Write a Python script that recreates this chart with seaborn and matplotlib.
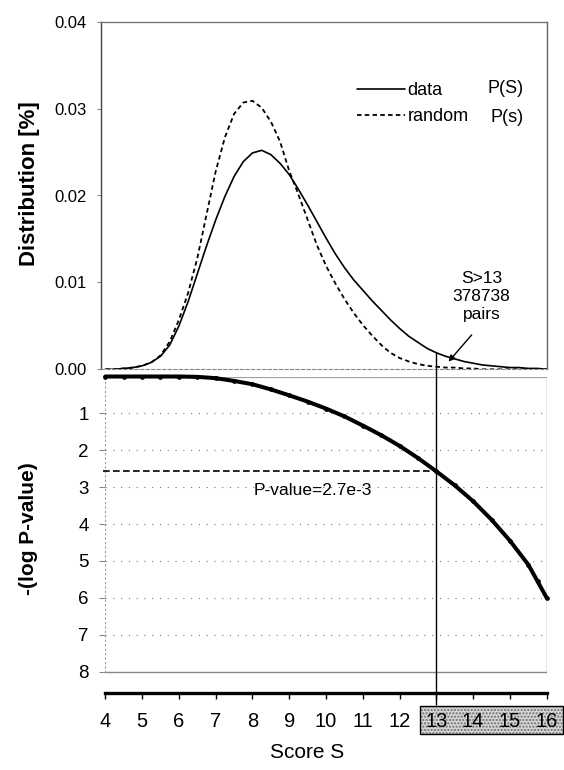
import matplotlib
matplotlib.use('Agg')
import matplotlib.pyplot as plt
from matplotlib.patches import Rectangle
import seaborn as sns

sns.set_theme(style='white')
plt.rcParams['font.family'] = ['Liberation Sans', 'DejaVu Sans']
plt.rcParams['text.color'] = 'black'
plt.rcParams['axes.labelcolor'] = 'black'

# upper panel: score distributions (fraction)
score = [4.0, 4.25, 4.5, 4.75, 5.0, 5.25, 5.5, 5.75, 6.0, 6.25, 6.5, 6.75,
         7.0, 7.25, 7.5, 7.75, 8.0, 8.25, 8.5, 8.75, 9.0, 9.25, 9.5, 9.75,
         10.0, 10.25, 10.5, 10.75, 11.0, 11.25, 11.5, 11.75, 12.0, 12.25, 12.5, 12.75,
         13.0, 13.25, 13.5, 13.75, 14.0, 14.25, 14.5, 14.75, 15.0, 15.25, 15.5, 15.75, 16.0]
p_data = [0.0, 0.0, 0.0001, 0.0002, 0.0004, 0.0008, 0.0015, 0.0028, 0.0050, 0.0078, 0.0110, 0.0142,
          0.0172, 0.0199, 0.0222, 0.0239, 0.0249, 0.0252, 0.0247, 0.0237, 0.0224, 0.0207, 0.0189, 0.0170,
          0.0151, 0.0133, 0.0117, 0.0103, 0.0091, 0.0079, 0.0068, 0.0057, 0.0047, 0.0038, 0.0031, 0.0024,
          0.0019, 0.0015, 0.0012, 0.0009, 0.0007, 0.0005, 0.0004, 0.0003, 0.0002, 0.0002, 0.0001, 0.0001, 0.0]
p_random = [0.0, 0.0, 0.0001, 0.0002, 0.0004, 0.0008, 0.0016, 0.0032, 0.0057, 0.0088, 0.0128, 0.0178,
            0.0228, 0.0267, 0.0294, 0.0307, 0.0309, 0.0301, 0.0285, 0.0262, 0.0228, 0.0201, 0.0172, 0.0143,
            0.0119, 0.0099, 0.0081, 0.0065, 0.0051, 0.0039, 0.0028, 0.0019, 0.0013, 0.0009, 0.0006, 0.0004,
            0.0003, 0.0002, 0.0002, 0.0001, 0.0001, 0.0, 0.0, 0.0, 0.0, 0.0, 0.0, 0.0, 0.0]

# lower panel: -(log P-value)
score_p = [4.0, 4.5, 5.0, 5.5, 6.0, 6.5, 7.0, 7.5, 8.0, 8.5, 9.0, 9.5, 10.0,
           10.5, 11.0, 11.5, 12.0, 12.5, 13.0, 13.5, 14.0, 14.5, 15.0, 15.5, 15.75, 16.0]
neg_log_p = [0.0, 0.0, 0.0, 0.0, 0.0, 0.01, 0.045, 0.12, 0.21, 0.35, 0.51, 0.68, 0.87,
             1.08, 1.33, 1.59, 1.88, 2.21, 2.57, 2.95, 3.38, 3.88, 4.45, 5.10, 5.55, 6.0]

cut = 13.0
W, H = 564, 770
fig = plt.figure(figsize=(W / 100, H / 100), dpi=100)


def box(x0, y0, x1, y1):
    # pixel box -> figure fraction
    return [x0 / W, 1 - y1 / H, (x1 - x0) / W, (y1 - y0) / H]


ax1 = fig.add_axes(box(101, 21.7, 546.7, 369.3))
ax2 = fig.add_axes(box(105.3, 376.5, 546.7, 692.7))

# ---- top panel
sns.lineplot(x=score, y=p_data, ax=ax1, color='black', lw=1.2, label='data')
sns.lineplot(x=score, y=p_random, ax=ax1, color='black', lw=1.3,
             linestyle=(0, (2.5, 1.8)), label='random')
ax1.set_xlim(3.88, 16.0)
ax1.set_ylim(0, 0.04)
ax1.set_xticks([])
ax1.set_yticks([0, 0.01, 0.02, 0.03, 0.04])
ax1.set_yticklabels(['0.00', '0.01', '0.02', '0.03', '0.04'])
ax1.tick_params(axis='y', left=True, length=3, width=0.8, color='#888888',
                pad=7, labelsize=12, labelcolor='black')
ax1.set_xlabel('')
ax1.set_ylabel('')
ax1.spines['left'].set_color('#444444')
ax1.spines['top'].set_color('#777777')
ax1.spines['right'].set_color('#666666')
for s in ['left', 'top', 'right']:
    ax1.spines[s].set_linewidth(1.0)
ax1.spines['bottom'].set_color('#888888')
ax1.spines['bottom'].set_linestyle((0, (3, 2)))
ax1.spines['bottom'].set_linewidth(0.8)

ax1.vlines(cut, 0, p_data[score.index(cut)], color='black', lw=1.0)

ax1.legend(loc='upper left', bbox_to_anchor=(0.5737, 0.826), frameon=False,
           fontsize=13, handlelength=2.7, handletextpad=0.1, borderpad=0,
           borderaxespad=0, labelspacing=0.5)
ax1.text(14.38, 0.03234, 'P(S)', va='center', ha='left', fontsize=13)
ax1.text(14.46, 0.0290, 'P(s)', va='center', ha='left', fontsize=13)

ax1.text(14.23, 0.00834, 'S>13\n378738\npairs', ha='center', va='center',
         fontsize=12.5, linespacing=1.25)
ax1.annotate('', xy=(13.33, 0.00088), xytext=(13.96, 0.00396),
             arrowprops=dict(arrowstyle='-|>', color='black', lw=1.0,
                             shrinkA=0, shrinkB=0, mutation_scale=9))

# ---- bottom panel
sns.lineplot(x=score_p, y=neg_log_p, ax=ax2, color='black', lw=2.9,
             marker='o', markersize=3.4, markeredgewidth=0, clip_on=False, zorder=5)
ax2.set_xlim(4, 16)
ax2.set_ylim(8.57, 0)
for s in ['left', 'top', 'right']:
    ax2.spines[s].set_visible(False)
ax2.spines['bottom'].set_color('black')
ax2.spines['bottom'].set_linewidth(2.4)

grid_ls = (0, (1, 6))
ax2.hlines(range(1, 8), 4, 16, color='#777777', lw=0.8, linestyles=[grid_ls])
ax2.vlines(4, 0, 8, color='#999999', lw=0.8, linestyles=[(0, (2, 2))])
ax2.hlines(0, 4, 16, color='#a0a0a0', lw=1.6, zorder=1)
ax2.hlines(8, 4, 16, color='#888888', lw=1.0)
ax2.vlines(16, 0, 8, color='#888888', lw=1.0)

ax2.set_yticks(range(1, 9))
ax2.set_yticklabels([str(v) for v in range(1, 9)])
ax2.set_xticks(range(4, 17))
ax2.set_xticklabels([str(v) for v in range(4, 17)])
ax2.tick_params(axis='y', left=True, length=4, width=0.8, color='#888888',
                pad=8, labelsize=13.5, labelcolor='black')
ax2.tick_params(axis='x', bottom=True, length=4, width=1.0, color='black',
                pad=10, labelsize=14.5, labelcolor='black')
ax2.set_xlabel('')
ax2.set_ylabel('')

p_cut = neg_log_p[score_p.index(cut)]
ax2.hlines(p_cut, 3.95, cut, color='black', lw=1.2, linestyles=[(0, (4, 2))],
           clip_on=False)
ax2.text(8.04, 3.08, 'P-value=2.7e-3', ha='left', va='center', fontsize=12.5)
ax2.vlines(cut, -0.2, 8.9, color='black', lw=1.0, clip_on=False)

# shaded box behind the 13..16 tick labels
ax2.add_patch(Rectangle((12.56, 8.93), 3.88, 0.76, facecolor='#d4d4d4',
                        edgecolor='#6e6e6e', hatch='.....', lw=0,
                        clip_on=False, zorder=0))
ax2.add_patch(Rectangle((12.56, 8.93), 3.88, 0.76, facecolor='none',
                        edgecolor='black', lw=1.0, clip_on=False, zorder=0.5))

fig.text(30 / W, 1 - 183.5 / H, 'Distribution [%]', rotation=90, ha='center',
         va='center', fontsize=16, fontweight='bold')
fig.text(28 / W, 1 - 528.7 / H, '-(log P-value)', rotation=90, ha='center',
         va='center', fontsize=15, fontweight='bold')
fig.text(307.5 / W, 1 - 753 / H, 'Score S', ha='center', va='center', fontsize=15)

fig.savefig('out.png', dpi=100)
